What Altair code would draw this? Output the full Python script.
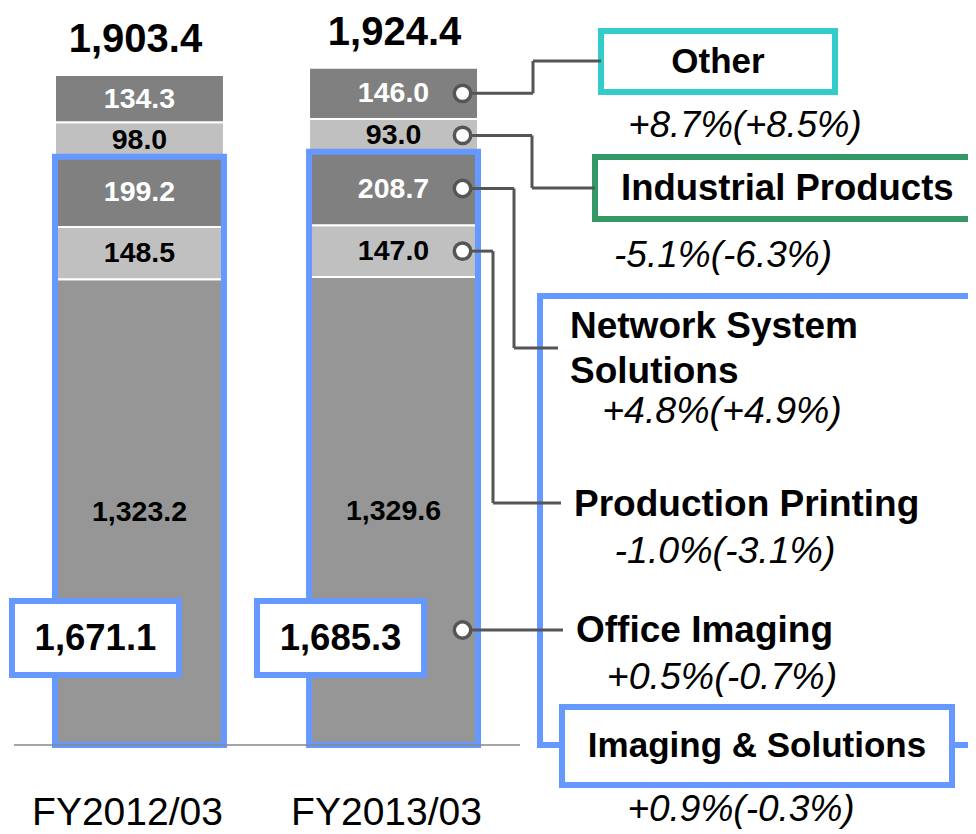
import altair as alt
import pandas as pd

# ---------------- data ----------------
years = ["FY2012/03", "FY2013/03"]
segments = ["Office Imaging", "Production Printing", "Network System Solutions",
            "Industrial Products", "Other"]
fy2012 = [1323.2, 148.5, 199.2, 98.0, 134.3]
fy2013 = [1329.6, 147.0, 208.7, 93.0, 146.0]
totals = [1903.4, 1924.4]
imaging_solutions = [1671.1, 1685.3]
growth_labels = {
    "Other": "+8.7%(+8.5%)",
    "Industrial Products": "-5.1%(-6.3%)",
    "Network System Solutions": "+4.8%(+4.9%)",
    "Production Printing": "-1.0%(-3.1%)",
    "Office Imaging": "+0.5%(-0.7%)",
    "Imaging & Solutions": "+0.9%(-0.3%)",
}

rows = []
for yr, vals in zip(years, [fy2012, fy2013]):
    base = 0.0
    for seg, v in zip(segments, vals):
        rows.append(dict(year=yr, segment=seg, value=v, y0=base, y1=base + v, mid=base + v / 2))
        base += v
df = pd.DataFrame(rows)
tot_df = pd.DataFrame(dict(year=years, total=totals, sub=imaging_solutions))
one = pd.DataFrame({"a": [0]})

# ---------------- style / layout ----------------
FONT = "Liberation Sans"
BLUE = "#6699FF"
TEAL = "#33CCCC"
GREEN = "#339966"
LINE = "#555555"
seg_colors = ["#969696", "#C0C0C0", "#808080", "#C0C0C0", "#808080"]
W, H = 960, 826
BASE = 737
PX = 0.352

xs = alt.Scale(domain=years, range=[47, 470], paddingInner=0.335, paddingOuter=0)
ys = alt.Scale(domain=[0, BASE / PX], range=[BASE, 0], nice=False, zero=True)
X = alt.X("year:N", scale=xs, axis=None)

layers = []

bars = alt.Chart(df).mark_bar(stroke="white", strokeWidth=2).encode(
    x=X,
    y=alt.Y("y0:Q", scale=ys, axis=None),
    y2="y1:Q",
    color=alt.Color("segment:N", scale=alt.Scale(domain=segments, range=seg_colors), legend=None),
)
layers.append(bars)

is_box = alt.Chart(tot_df).mark_bar(fill="white", fillOpacity=0, stroke=BLUE, strokeWidth=6).encode(
    x=X, y=alt.Y("sub:Q", scale=ys), y2=alt.datum(0)
)
layers.append(is_box)

baseline = alt.Chart(one).mark_rule(color="#888888", strokeWidth=1.5).encode(
    x=alt.value(6), x2=alt.value(512), y=alt.Y(datum=0, scale=ys)
)
layers.append(baseline)

# segment value labels
dark = alt.FieldOneOfPredicate(field="segment", oneOf=["Other", "Network System Solutions"])
seg_text = alt.Chart(df).mark_text(font=FONT, fontWeight="bold", baseline="middle",
                                   fontSize=28.5).encode(
    x=X,
    y=alt.Y("mid:Q", scale=ys),
    text=alt.Text("value:Q", format=",.1f"),
    color=alt.condition(dark, alt.value("white"), alt.value("black")),
)
layers.append(seg_text)

for yr, off in zip(years, [-4, 1]):
    layers.append(alt.Chart(tot_df[tot_df.year == yr]).mark_text(
        font=FONT, fontWeight="bold", fontSize=40, baseline="middle", dy=-35, xOffset=off).encode(
        x=X, y=alt.Y("total:Q", scale=ys), text=alt.Text("total:Q", format=",.1f")))

# subtotal boxes
for yr, off in zip(years, [-44, -53]):
    sub = tot_df[tot_df.year == yr]
    layers.append(alt.Chart(sub).mark_bar(width=167, xOffset=off, fill="white",
                                          stroke=BLUE, strokeWidth=6).encode(
        x=X, y=alt.value(593), y2=alt.value(667)))
    layers.append(alt.Chart(sub).mark_text(xOffset=off, font=FONT, fontWeight="bold",
                                           fontSize=36.5, baseline="middle").encode(
        x=X, y=alt.value(631), text=alt.Text("sub:Q", format=",.1f")))

# category labels
for yr, off in zip(years, [-12, -7]):
    layers.append(alt.Chart(tot_df[tot_df.year == yr]).mark_text(
        font=FONT, fontSize=39, baseline="middle", xOffset=off).encode(
        x=X, y=alt.value(805), text="year:N"))

# right-side boxes
def box(x1, x2, y1, y2, color, fill="white", fo=1):
    return alt.Chart(one).mark_rect(fill=fill, fillOpacity=fo, stroke=color, strokeWidth=6).encode(
        x=alt.value(x1), x2=alt.value(x2), y=alt.value(y1), y2=alt.value(y2))

layers.append(box(532, 1010, 288, 737, BLUE, fo=0))
layers.append(box(593, 827, 23, 84, TEAL))
layers.append(box(587, 1010, 149, 211, GREEN))

# connectors
def rule(x1, x2, y1, y2):
    return alt.Chart(one).mark_rule(color=LINE, strokeWidth=3).encode(
        x=alt.value(x1), x2=alt.value(x2), y=alt.value(y1), y2=alt.value(y2))

conn = {
    "Other": (525, 53, 593),
    "Industrial Products": (524, 180, 587),
    "Network System Solutions": (506, 340, 550),
    "Production Printing": (485, 495, 553),
}
last = df[df.year == years[1]]
for seg, (ex, ly, endx) in conn.items():
    d = last[last.segment == seg]
    layers.append(alt.Chart(d).mark_rule(color=LINE, strokeWidth=3).encode(
        x=alt.value(455), x2=alt.value(ex), y=alt.Y("mid:Q", scale=ys)))
    layers.append(alt.Chart(d).mark_rule(color=LINE, strokeWidth=3).encode(
        x=alt.value(ex), y=alt.Y("mid:Q", scale=ys), y2=alt.value(ly)))
    layers.append(rule(ex, endx, ly, ly))
layers.append(rule(455, 555, 622, 622))

# circles
circ = dict(shape="circle", filled=True, fill="white", stroke=LINE, strokeWidth=3.5,
            size=270, opacity=1, xOffset=69)
layers.append(alt.Chart(last[last.segment != "Office Imaging"]).mark_point(**circ).encode(
    x=X, y=alt.Y("mid:Q", scale=ys)))
layers.append(alt.Chart(last[last.segment == "Office Imaging"]).mark_point(**circ).encode(
    x=X, y=alt.value(622)))

# Imaging & Solutions box (covers the big box bottom edge)
layers.append(box(554, 944, 699, 777, BLUE))

# right-side texts
def txt(s, x, y, align="center", italic=False, bold=True, size=37):
    return alt.Chart(one).mark_text(
        text=s, font=FONT, fontSize=size, align=align, baseline="middle",
        fontWeight="bold" if bold else "normal",
        fontStyle="italic" if italic else "normal", color="black",
    ).encode(x=alt.value(x), y=alt.value(y))

layers += [
    txt("Other", 710, 54, size=35),
    txt(growth_labels["Other"], 737, 118, italic=True, bold=False, size=36.5),
    txt("Industrial Products", 613, 181, align="left", size=36.5),
    txt(growth_labels["Industrial Products"], 715, 248, italic=True, bold=False),
    txt("Network System", 562, 319, align="left"),
    txt("Solutions", 562, 364, align="left"),
    txt(growth_labels["Network System Solutions"], 714, 404, italic=True, bold=False, size=37.5),
    txt("Production Printing", 566, 497, align="left"),
    txt(growth_labels["Production Printing"], 717, 544, italic=True, bold=False, size=37.5),
    txt("Office Imaging", 568, 623, align="left"),
    txt(growth_labels["Office Imaging"], 714, 670, italic=True, bold=False, size=37.5),
    txt("Imaging & Solutions", 749, 738, size=35),
    txt(growth_labels["Imaging & Solutions"], 733, 802, italic=True, bold=False),
]

chart = alt.layer(*layers).properties(
    width=W, height=H, autosize=alt.AutoSizeParams(type="none"), padding=0
).configure_view(stroke=None)

chart.save("out.html", embed_options={"renderer": "svg", "actions": False})
